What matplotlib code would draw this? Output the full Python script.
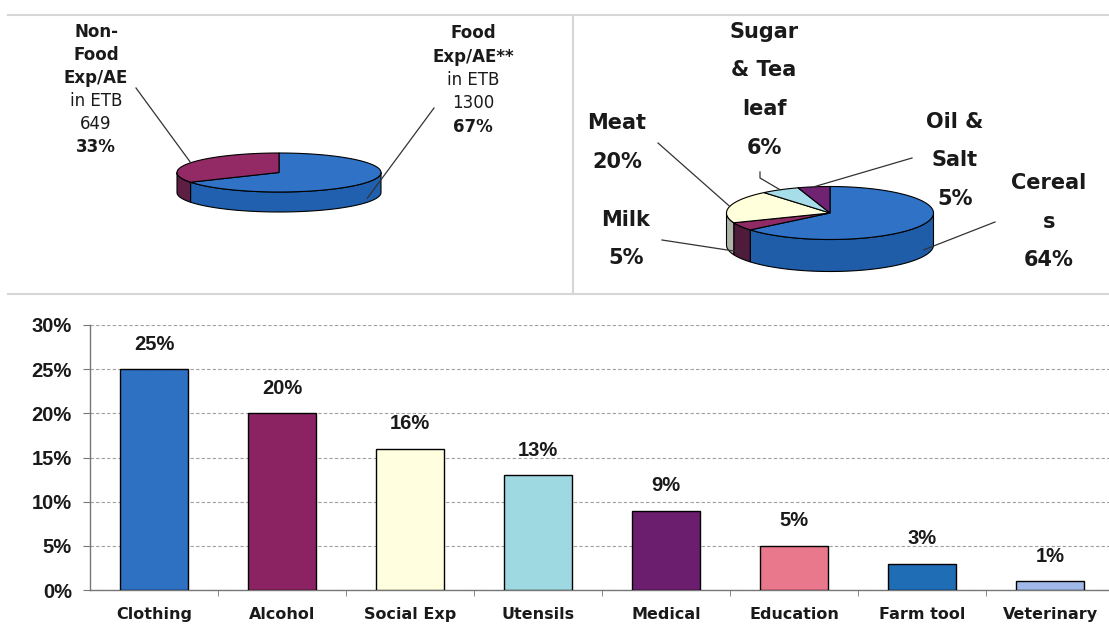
import matplotlib
matplotlib.use("Agg")
import matplotlib.pyplot as plt
import numpy as np
from matplotlib.patches import Polygon
from matplotlib.ticker import FuncFormatter

# food / non-food expenditure per adult equivalent, in ETB
exp_names = ['Food', 'Non-Food']
exp_etb = [1300, 649]

# composition of food expenditure (%)
food_items = ['Cereals', 'Milk', 'Meat', 'Sugar & Tea leaf', 'Oil & Salt']
food_share = [64, 5, 20, 6, 5]
food_item_lines = [['Cereal', 's'], ['Milk'], ['Meat'], ['Sugar', '& Tea', 'leaf'], ['Oil &', 'Salt']]

# composition of non-food expenditure (%)
nonfood_items = ['Clothing', 'Alcohol', 'Social Exp', 'Utensils',
                 'Medical', 'Education', 'Farm tool', 'Veterinary']
nonfood_share = [25, 20, 16, 13, 9, 5, 3, 1]

exp_top = ['#2F72C6', '#932A66']
exp_side = ['#2160AE', '#5C1E42']
food_top = ['#2F72C6', '#8E2A64', '#FFFFDC', '#A6DDE8', '#6F2372']
food_side = ['#1F5DA8', '#4E1C3A', '#AEB4A8', '#7AAAB4', '#45164A']
bar_colors = ['#2E71C3', '#8B2362', '#FFFFE0', '#9ED8E0',
              '#6B1D6E', '#E9788C', '#1E6DB5', '#A0B9E8']

W, H = 1109, 627
fig = plt.figure(figsize=(W / 100, H / 100), dpi=100)
fig.patch.set_facecolor('white')

# overlay in pixel units for the two pies
top = fig.add_axes([0, 0, 1, 1])
top.set_xlim(0, W)
top.set_ylim(H, 0)
top.axis('off')


def pie3d(ax, values, tops, sides, cx, cy, rx, ry, depth):
    """Flat cylinder pie, first slice from 12 o'clock going clockwise.
    Returns a leader anchor for every slice."""
    total = float(sum(values))
    edges = 90 - 360 * np.concatenate([[0], np.cumsum(values)]) / total
    # outer wall, only the front half is visible
    for i in range(len(values)):
        a, b = edges[i + 1], edges[i]
        for k in range(-2, 2):
            lo, hi = max(a, 180 + 360 * k), min(b, 360 + 360 * k)
            if lo < hi:
                t = np.radians(np.linspace(lo, hi, 80))
                x = cx + rx * np.cos(t)
                y = cy - ry * np.sin(t)
                pts = np.column_stack([np.r_[x, x[::-1]], np.r_[y, y[::-1] + depth]])
                ax.add_patch(Polygon(pts, closed=True, fc=sides[i], ec='black', lw=0.8))
    anchors = []
    for i in range(len(values)):
        a, b = edges[i + 1], edges[i]
        t = np.radians(np.linspace(a, b, 150))
        pts = np.column_stack([np.r_[cx, cx + rx * np.cos(t)], np.r_[cy, cy - ry * np.sin(t)]])
        ax.add_patch(Polygon(pts, closed=True, fc=tops[i], ec='black', lw=0.8))
        m = np.radians((a + b) / 2)
        ax_y = cy - ry * np.sin(m)
        if np.sin(m) < 0:
            ax_y += 0.8 * depth
        anchors.append((cx + rx * np.cos(m), ax_y))
    return anchors


def text_block(ax, x, y0, lines, size, step, weights=None):
    for j, line in enumerate(lines):
        w = weights[j] if weights else 'bold'
        ax.text(x, y0 + j * step, line, ha='center', va='center', fontsize=size,
                fontweight=w, family='DejaVu Sans', color='#1a1a1a')


# panel frames
for yy in (15, 294):
    top.plot([8, W], [yy, yy], color='#d6d6d6', lw=1.5)
top.plot([573, 573], [15, 294], color='#d6d6d6', lw=1.5)

# left pie: food vs non-food
exp_total = sum(exp_etb)
exp_pct = [round(100 * v / exp_total) for v in exp_etb]
left_anchor = pie3d(top, exp_etb, exp_top, exp_side, 279, 172.5, 102, 19.5, 20)

text_block(top, 473, 33, ['Food', 'Exp/AE**', 'in ETB', str(exp_etb[0]), f'{exp_pct[0]}%'],
           12, 23.5, ['bold', 'bold', 'normal', 'normal', 'bold'])
text_block(top, 96, 32, ['Non-', 'Food', 'Exp/AE', 'in ETB', str(exp_etb[1]), f'{exp_pct[1]}%'],
           12, 23, ['bold', 'bold', 'bold', 'normal', 'normal', 'bold'])
left_text_end = [(434, 108), (136, 88)]
for (ax_x, ax_y), (tx, ty) in zip(left_anchor, left_text_end):
    top.plot([tx, ax_x], [ty, ax_y], color='#333333', lw=0.9)

# right pie: food items
right_anchor = pie3d(top, food_share, food_top, food_side, 830, 213, 103.5, 26.5, 32)
food_label_pos = [(1049, 183), (626, 220), (617, 123), (764, 32), (955, 122)]
food_text_end = [(995, 222), (662, 240), (658, 143), (760, 172), (912, 158)]
for lines, v, (x, y) in zip(food_item_lines, food_share, food_label_pos):
    text_block(top, x, y, lines + [f'{v}%'], 15, 38.5)
for i, ((ax_x, ax_y), (tx, ty)) in enumerate(zip(right_anchor, food_text_end)):
    if food_items[i] == 'Sugar & Tea leaf':
        top.plot([tx, tx, ax_x], [ty, ty + 6, ax_y], color='#333333', lw=0.9)
    else:
        top.plot([tx, ax_x], [ty, ax_y], color='#333333', lw=0.9)

# bar chart of non-food items
ax = fig.add_axes([90 / W, 1 - 590 / H, 1 - 90 / W, 265 / H])
ax.patch.set_alpha(0)
x = np.arange(len(nonfood_items))
bars = ax.bar(x, nonfood_share, width=0.53, color=bar_colors, edgecolor='black', lw=1, zorder=3)
for xi, v in zip(x, nonfood_share):
    ax.annotate(f'{v}%', (xi, v), xytext=(0, 14), textcoords='offset points',
                ha='center', va='baseline', fontsize=14.5, fontweight='bold',
                family='Liberation Sans', color='#1a1a1a')

ax.set_ylim(0, 30)
ax.set_xlim(-0.5, -0.5 + (W - 90) / 128)
ax.set_yticks(np.arange(0, 31, 5))
ax.yaxis.set_major_formatter(FuncFormatter(lambda v, p: f'{v:.0f}%'))
ax.yaxis.grid(True, color='#a0a0a0', lw=0.8, ls=(0, (3, 2)), zorder=0)
ax.set_xticks(x)
ax.set_xticklabels(nonfood_items, fontsize=11.5, fontweight='bold', family='DejaVu Sans', color='#1a1a1a')
ax.set_xticks(x[:-1] + 0.5, minor=True)
ax.tick_params(axis='x', which='major', length=0, pad=12)
ax.tick_params(axis='x', which='minor', length=4, color='#777777', direction='out')
ax.tick_params(axis='y', length=5, color='#777777', pad=8)
for lab in ax.get_yticklabels():
    lab.set_fontsize(14.5)
    lab.set_fontweight('bold')
    lab.set_family('Liberation Sans')
    lab.set_color('#1a1a1a')
for s in ('top', 'right'):
    ax.spines[s].set_visible(False)
for s in ('left', 'bottom'):
    ax.spines[s].set_color('#777777')
    ax.spines[s].set_linewidth(1)

fig.savefig('out.png', dpi=100, facecolor='white')
